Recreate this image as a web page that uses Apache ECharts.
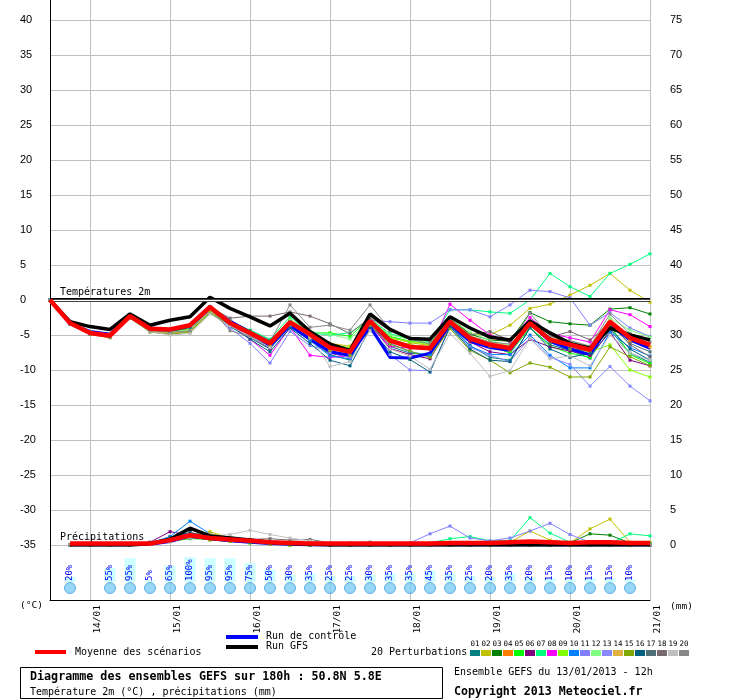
<!DOCTYPE html>
<html>
<head>
<meta charset="utf-8">
<title>Diagramme des ensembles GEFS</title>
<script src="https://cdn.jsdelivr.net/npm/echarts@6.0.0/dist/echarts.min.js"></script>
<style>
    html, body {margin: 0; padding: 0; background: #fff;}
    #chart {width: 740px; height: 700px;}
</style>
</head>
<body>
<div id="chart"></div>
<script>
// echeances toutes les 6h, run du 13/01 12h jusqu'a +180h
var categories = ['13/01 12h','13/01 18h','14/01 00h','14/01 06h','14/01 12h','14/01 18h',
    '15/01 00h','15/01 06h','15/01 12h','15/01 18h','16/01 00h','16/01 06h','16/01 12h','16/01 18h',
    '17/01 00h','17/01 06h','17/01 12h','17/01 18h','18/01 00h','18/01 06h','18/01 12h','18/01 18h',
    '19/01 00h','19/01 06h','19/01 12h','19/01 18h','20/01 00h','20/01 06h','20/01 12h','20/01 18h','21/01 00h'];

// temperature 2m (°C)
var tempMean = [0,-3.3,-4.7,-5.1,-2.3,-4.1,-4.2,-3.6,-1.0,-3.3,-4.7,-6.2,-3.2,-4.9,-6.8,-7.4,-3.0,-5.8,-6.7,-6.9,-3.1,-5.5,-6.4,-6.9,-3.3,-5.7,-6.4,-7.1,-3.1,-5.4,-6.4];
var tempGfs = [0,-3.1,-3.8,-4.2,-2.0,-3.6,-2.9,-2.4,0.4,-1.2,-2.4,-3.7,-1.9,-4.5,-6.3,-7.2,-2.0,-4.2,-5.5,-5.6,-2.4,-4.0,-5.3,-5.7,-3.0,-4.7,-6.2,-6.9,-4.0,-5.0,-5.7];
var tempCtrl = [0,-3.4,-4.5,-4.9,-2.2,-4.0,-4.2,-3.7,-1.2,-3.0,-4.6,-6.5,-3.6,-5.6,-7.4,-7.9,-3.8,-8.2,-8.3,-7.6,-3.4,-5.9,-6.8,-7.2,-3.3,-5.9,-7.0,-7.8,-3.5,-5.7,-6.9];

var t01 = [0,-3.4,-4.6,-5.0,-2.4,-4.3,-4.5,-4.0,-1.3,-3.8,-5.4,-7.0,-3.6,-5.8,-7.8,-8.6,-3.4,-6.6,-7.6,-7.9,-3.8,-6.5,-8.2,-8.6,-4.0,-6.4,-7.2,-8.3,-4.3,-7.6,-8.9];
var t02 = [0,-3.3,-4.6,-5.0,-2.2,-4.0,-4.4,-4.2,-1.5,-3.2,-4.4,-6.0,-2.8,-4.6,-6.2,-6.6,-2.9,-5.3,-6.1,-6.5,-2.9,-4.8,-5.0,-3.6,-1.2,-0.6,0.7,2.1,3.8,1.4,-0.3];
var t03 = [0,-3.2,-4.5,-5.0,-2.2,-4.2,-4.6,-4.0,-1.2,-3.1,-4.4,-5.8,-3.0,-4.8,-6.5,-7.2,-2.8,-5.6,-6.4,-6.8,-2.5,-4.9,-5.7,-5.9,-1.8,-3.1,-3.4,-3.6,-1.3,-1.1,-2.0];
var t04 = [0,-3.3,-4.7,-5.2,-2.4,-4.3,-4.5,-3.9,-1.2,-3.5,-5.0,-6.6,-3.4,-5.3,-7.1,-7.4,-3.3,-5.8,-6.5,-6.6,-3.4,-5.6,-6.6,-7.2,-3.6,-5.4,-6.2,-6.8,-2.9,-5.9,-6.7];
var t05 = [0,-3.2,-4.6,-5.1,-2.3,-4.4,-4.8,-4.5,-1.8,-3.4,-4.5,-5.9,-3.0,-4.7,-4.7,-5.2,-2.6,-5.2,-5.9,-6.2,-2.8,-5.3,-6.5,-7.6,-3.9,-6.6,-7.6,-8.2,-3.6,-7.8,-9.1];
var t06 = [0,-3.3,-4.7,-5.1,-2.4,-4.2,-4.4,-3.8,-1.1,-3.6,-5.2,-6.9,-3.8,-5.7,-7.6,-8.2,-3.5,-6.9,-7.8,-8.4,-3.7,-6.0,-7.4,-7.8,-5.6,-6.7,-7.3,-7.9,-4.6,-8.6,-9.4];
var t07 = [0,-3.3,-4.6,-5.0,-2.1,-4.0,-4.3,-4.0,-1.3,-3.0,-4.3,-5.6,-2.4,-4.7,-5.0,-4.7,-2.7,-4.8,-5.6,-6.0,-1.4,-1.4,-1.7,-1.9,0.0,3.8,1.9,0.5,3.8,5.1,6.6];
var t08 = [0,-3.4,-4.8,-5.2,-2.3,-4.1,-4.3,-3.7,-1.2,-3.6,-5.6,-7.9,-3.9,-7.9,-8.2,-8.0,-3.5,-6.6,-6.9,-7.0,-0.6,-2.9,-5.0,-5.9,-2.5,-4.8,-5.4,-6.0,-1.4,-2.1,-3.8];
var t09 = [0,-3.3,-4.7,-5.0,-2.3,-4.3,-4.7,-4.3,-1.6,-3.4,-4.8,-6.3,-3.1,-4.8,-6.4,-6.8,-3.0,-5.5,-5.9,-6.4,-2.7,-5.2,-6.3,-7.0,-3.4,-6.0,-7.0,-7.4,-6.4,-10.0,-11.0];
var t10 = [0,-3.3,-4.6,-5.1,-2.2,-4.0,-4.2,-3.7,-1.1,-3.2,-5.0,-6.8,-3.9,-5.8,-8.0,-8.4,-3.5,-6.2,-7.4,-7.9,-3.5,-6.6,-7.8,-7.8,-5.0,-7.9,-9.7,-9.7,-4.6,-6.8,-8.0];
var t11 = [0,-3.5,-4.9,-5.3,-2.5,-4.5,-4.9,-4.4,-1.7,-4.0,-6.2,-9.0,-4.5,-6.5,-7.3,-8.0,-2.9,-3.1,-3.3,-3.3,-1.4,-1.4,-2.4,-0.7,1.4,1.2,0.3,-3.6,-1.8,-4.0,-5.2];
var t12 = [0,-3.2,-4.5,-4.9,-2.2,-4.2,-4.6,-4.2,-1.5,-3.3,-4.6,-6.0,-2.9,-4.5,-4.9,-5.6,-2.8,-5.0,-5.6,-6.1,-2.6,-4.6,-5.8,-6.5,-3.0,-5.0,-5.9,-6.6,-2.6,-4.3,-5.3];
var t13 = [0,-3.4,-4.7,-5.1,-2.3,-4.2,-4.4,-3.8,-1.0,-3.4,-5.0,-6.5,-3.5,-5.5,-7.5,-8.2,-3.6,-7.8,-10.0,-10.1,-3.9,-6.8,-7.9,-8.8,-5.4,-8.2,-9.2,-12.3,-9.5,-12.3,-14.4];
var t14 = [0,-3.3,-4.7,-5.1,-2.3,-4.4,-4.8,-4.4,-1.6,-3.3,-4.7,-6.1,-3.2,-4.9,-6.6,-7.2,-3.2,-5.7,-6.4,-6.7,-3.0,-5.1,-6.0,-6.6,-3.1,-5.3,-6.1,-6.9,-3.2,-5.6,-6.6];
var t15 = [0,-3.4,-4.9,-5.4,-2.6,-4.6,-4.9,-4.6,-1.8,-3.6,-4.9,-6.5,-3.2,-5.4,-7.2,-7.9,-3.6,-6.3,-7.3,-8.2,-4.1,-7.2,-8.6,-10.4,-9.0,-9.6,-11.0,-11.0,-6.7,-8.1,-9.4];
var t16 = [0,-3.4,-4.8,-5.2,-2.4,-4.3,-4.5,-3.9,-1.2,-3.7,-5.6,-7.4,-4.0,-6.2,-8.6,-9.4,-4.1,-7.4,-8.5,-10.3,-3.8,-7.0,-8.6,-8.8,-3.9,-7.0,-8.2,-7.6,-4.1,-7.0,-8.6];
var t17 = [0,-3.3,-4.6,-5.0,-2.2,-4.1,-4.3,-3.7,-0.9,-3.0,-4.4,-5.8,-3.1,-5.0,-6.8,-7.5,-2.8,-5.8,-6.7,-7.0,-3.2,-5.7,-6.6,-7.1,-3.4,-6.1,-6.9,-7.3,-3.6,-6.2,-7.4];
var t18 = [0,-3.3,-4.5,-4.8,-2.1,-4.0,-4.2,-3.6,-1.0,-2.6,-2.3,-2.3,-1.7,-2.3,-3.4,-4.8,-2.5,-4.4,-5.4,-5.9,-2.9,-5.0,-4.5,-5.8,-3.0,-5.3,-4.5,-5.7,-3.3,-6.4,-8.1];
var t19 = [0,-3.3,-4.8,-5.2,-2.5,-4.5,-5.0,-4.8,-2.0,-3.7,-5.2,-6.8,-3.5,-5.3,-9.5,-8.8,-4.4,-7.0,-8.0,-9.9,-4.8,-7.6,-10.9,-10.1,-5.5,-8.4,-8.0,-9.4,-5.0,-7.6,-8.6];
var t20 = [0,-3.5,-4.9,-5.3,-2.6,-4.4,-4.6,-4.4,-1.2,-4.4,-5.2,-6.0,-0.7,-3.9,-3.6,-4.3,-0.7,-4.2,-5.6,-6.3,-2.6,-5.2,-6.0,-6.3,-1.9,-5.2,-5.8,-6.6,-2.0,-4.8,-6.0];

// precipitations (mm), pas de valeur a l'echeance 0
var rainMean = [null,0.2,0.2,0.2,0.2,0.2,0.7,1.4,1.0,0.8,0.6,0.4,0.3,0.2,0.2,0.2,0.2,0.2,0.2,0.2,0.3,0.3,0.3,0.4,0.5,0.4,0.3,0.4,0.4,0.3,0.3];
var rainGfs = [null,0,0,0,0,0.2,0.8,2.4,1.3,1.0,0.7,0.4,0.2,0.1,0,0,0,0,0,0,0,0,0,0,0,0,0,0,0,0,0];
var rainCtrl = [null,0,0,0,0,0.1,0.5,1.3,0.9,0.6,0.4,0.2,0.1,0,0,0,0,0,0,0,0,0,0,0,0,0,0,0,0,0,0];

var r01 = [null,0,0,0,0,0.1,0.7,1.6,1.2,0.9,0.5,0.3,0.1,0,0,0,0,0,0,0,0,0,0,0,0,0,0,0,0,0,0];
var r02 = [null,0,0,0,0,0.3,0.9,1.5,1.9,1.0,0.6,0.2,0.1,0,0,0,0,0,0,0,0,0,0,0.4,2.0,0.7,0.3,2.3,3.7,0.4,0.4];
var r03 = [null,0,0,0,0,0.2,1.0,1.3,0.8,0.7,0.4,0.2,0,0,0,0,0,0,0,0,0,0.3,0.4,0.4,0.5,0.3,0.3,1.6,1.4,0.3,0.2];
var r04 = [null,0,0,0,0,0.3,0.6,1.8,1.1,0.8,0.5,0.3,0.1,0,0,0,0,0,0,0,0,0,0,0,0,0,0,0,0,0,0];
var r05 = [null,0,0,0,0,0.1,0.5,0.9,0.8,0.6,0.3,0.2,0,0,0,0,0,0,0,0,0,0,0,0,0,0,0,0,0,0,0];
var r06 = [null,0,0,0,0,0.4,1.9,1.4,1.0,0.7,0.4,0.2,0.1,0,0,0,0,0,0,0,0,0,0,0,0,0,0,0,0,0,0];
var r07 = [null,0,0,0,0,0.1,0.6,1.2,0.9,1.2,0.7,0.3,0.1,0,0,0,0,0,0,0.3,0.9,1.2,0.6,0.6,3.9,1.7,0.4,0.2,0.2,1.6,1.3];
var r08 = [null,0,0,0,0,0.2,0.8,1.7,1.3,0.9,0.5,0.3,0.1,0,0,0,0,0,0,0,0,0,0,0,0,0,0,0,0,0,0];
var r09 = [null,0,0,0,0,0.2,0.9,1.4,1.5,1.0,0.6,0.3,0.1,0,0,0,0,0,0,0,0,0,0,0,0,0,0,0,0,0,0];
var r10 = [null,0,0,0,0,0.3,1.2,3.4,1.6,0.9,0.5,0.3,0.1,0,0,0,0,0,0,0,0,0,0,0,0,0,0,0,0,0,0];
var r11 = [null,0,0,0,0,0.1,0.6,1.1,1.0,0.8,0.5,0.3,0.1,0,0,0,0,0,0.3,1.6,2.7,1.0,0.6,1.0,2.0,3.1,1.5,0.4,0.1,0,0];
var r12 = [null,0,0,0,0,0.2,0.7,1.3,1.0,0.8,0.4,0.2,0,0,0,0,0,0,0,0,0,0,0,0,0,0,0,0,0,0,0];
var r13 = [null,0,0,0,0,0.2,0.8,1.0,0.9,0.6,0.4,0.2,0.1,0,0,0,0,0,0,0,0,0,0,0,0,0,0,0,0,0,0];
var r14 = [null,0,0,0,0,0.1,0.6,1.5,1.6,1.1,0.7,0.3,0.1,0,0,0,0,0,0,0,0,0,0,0,0,0,0,0,0,0,0];
var r15 = [null,0,0,0,0,0.2,0.9,1.2,0.7,0.5,0.3,0.1,0,0,0,0,0,0,0,0,0,0,0,0,0,0,0,0,0,0,0];
var r16 = [null,0,0,0,0,0.3,1.1,1.8,1.1,0.7,0.4,0.2,0.1,0,0,0,0,0,0,0,0,0,0,0,0,0,0,0,0,0,0];
var r17 = [null,0,0,0,0,0.2,1.0,2.2,1.2,0.8,0.5,0.2,0.1,0,0,0,0,0,0,0,0,0,0,0,0,0,0,0,0,0,0];
var r18 = [null,0,0,0,0,0.1,0.5,1.0,0.9,0.8,0.8,0.9,0.7,0.8,0.3,0.2,0.3,0.1,0,0,0,0,0,0,0,0,0,0,0,0,0];
var r19 = [null,0,0,0,0,0.1,0.4,1.1,1.3,1.5,2.1,1.5,1.0,0.6,0.3,0.3,0.4,0.2,0.1,0,0,0,0,0,0,0,0,0,0,0,0];
var r20 = [null,0,0,0,0,0.1,0.5,1.4,1.2,0.9,0.7,0.5,0.3,0.2,0.2,0.3,0.4,0.2,0.1,0,0,0,0,0.3,0,0,0,0,0,0,0];

// probabilite de neige (%)
var snowPct = [null,20,null,55,95,5,65,100,95,95,75,50,30,35,25,25,30,35,35,45,35,25,20,35,20,15,10,15,15,10,null];

var pertNames = ['01','02','03','04','05','06','07','08','09','10','11','12','13','14','15','16','17','18','19','20'];
var pertColors = ['#008080','#c0c000','#008000','#ff8000','#00ff00','#800080','#00ff80','#ff00ff','#80ff00','#0080ff',
    '#8080ff','#80ff80','#8888ff','#e0b040','#80a800','#006080','#507078','#786870','#c0c0c0','#888888'];
var pertTemp = [t01,t02,t03,t04,t05,t06,t07,t08,t09,t10,t11,t12,t13,t14,t15,t16,t17,t18,t19,t20];
var pertRain = [r01,r02,r03,r04,r05,r06,r07,r08,r09,r10,r11,r12,r13,r14,r15,r16,r17,r18,r19,r20];

var MONO = '"DejaVu Sans Mono", "Liberation Mono", monospace';

var chart = echarts.init(document.getElementById('chart'), null, {renderer: 'canvas'});

// seulement les echeances de 00h portent une date
function isMidnight(index, value) {
    return /00h$/.test(value);
}

var series = [];

// ligne du 0 °C et libelles des deux zones
series.push({
    name: 'reperes',
    type: 'line',
    xAxisIndex: 0,
    yAxisIndex: 0,
    data: [],
    silent: true,
    markLine: {
        silent: true,
        symbol: ['none', 'none'],
        animation: false,
        data: [
            {yAxis: 0, lineStyle: {color: '#000', width: 4, type: 'solid'},
                label: {show: true, formatter: 'Températures 2m', position: 'insideStartTop', distance: [10, 3],
                    color: '#000', fontFamily: MONO, fontSize: 10}},
            {yAxis: 0, lineStyle: {color: '#fff', width: 1.4, type: 'solid'}, label: {show: false}},
            {yAxis: -35, lineStyle: {color: 'rgba(0,0,0,0)', width: 1},
                label: {show: true, formatter: 'Précipitations', position: 'insideStartTop', distance: [10, 3],
                    color: '#000', fontFamily: MONO, fontSize: 10}}
        ]
    }
});

// perturbations : temperature puis precipitations
for (var i = 0; i < pertTemp.length; i++) {
    series.push({
        name: 'T ' + pertNames[i],
        type: 'line',
        xAxisIndex: 0,
        yAxisIndex: 0,
        data: pertTemp[i],
        symbol: 'rect',
        symbolSize: 3,
        color: pertColors[i],
        lineStyle: {width: 1, color: pertColors[i]},
        silent: true
    });
}
for (var j = 0; j < pertRain.length; j++) {
    series.push({
        name: 'P ' + pertNames[j],
        type: 'line',
        xAxisIndex: 0,
        yAxisIndex: 1,
        data: pertRain[j],
        symbol: 'rect',
        symbolSize: 3,
        color: pertColors[j],
        lineStyle: {width: 1, color: pertColors[j]},
        silent: true
    });
}

// run de controle, run GFS, moyenne (au-dessus des marqueurs des perturbations)
function thickLine(name, data, yIndex, color, width, z) {
    return {
        name: name,
        type: 'line',
        xAxisIndex: 0,
        yAxisIndex: yIndex,
        data: data,
        showSymbol: false,
        color: color,
        lineStyle: {width: width, color: color},
        z: z,
        silent: true
    };
}
series.push(thickLine('Run de contrôle', tempCtrl, 0, '#0000ff', 3, 3));
series.push(thickLine('Run de contrôle P', rainCtrl, 1, '#0000ff', 3, 3));
series.push(thickLine('Run GFS', tempGfs, 0, '#000000', 3.5, 4));
series.push(thickLine('Run GFS P', rainGfs, 1, '#000000', 3.5, 4));
series.push(thickLine('Moyenne des scénarios', tempMean, 0, '#ff0000', 4.5, 5));
series.push(thickLine('Moyenne P', rainMean, 1, '#ff0000', 4.5, 5));

// barres de probabilite de neige + flocons
series.push({
    name: 'neige',
    type: 'bar',
    xAxisIndex: 2,
    yAxisIndex: 3,
    data: snowPct,
    barWidth: 11,
    itemStyle: {color: '#ccffff'},
    silent: true,
    label: {
        show: true,
        position: 'insideBottom',
        rotate: 90,
        align: 'left',
        verticalAlign: 'middle',
        distance: 1,
        formatter: function (p) { return p.value + '%'; },
        color: '#0000ff',
        fontFamily: MONO,
        fontSize: 9
    }
});
series.push({
    name: 'flocons',
    type: 'scatter',
    xAxisIndex: 2,
    yAxisIndex: 3,
    data: snowPct.map(function (p) { return p == null ? null : 0; }),
    symbol: 'circle',
    symbolSize: 11,
    symbolOffset: [0, 6],
    itemStyle: {color: '#80ccf2', borderColor: '#3d9fdc', borderWidth: 1},
    silent: true
});

// legende et cartouche du bas
var graphics = [
    {type: 'text', x: 20, y: 606, style: {text: '(°C)', font: '9.5px ' + MONO, fill: '#000', verticalAlign: 'middle'}},
    {type: 'text', x: 670, y: 607, style: {text: '(mm)', font: '9.5px ' + MONO, fill: '#000', verticalAlign: 'middle'}},
    {type: 'rect', shape: {x: 35, y: 650, width: 31, height: 4}, style: {fill: '#ff0000'}},
    {type: 'text', x: 75, y: 652, style: {text: 'Moyenne des scénarios', font: '10px ' + MONO, fill: '#000', verticalAlign: 'middle'}},
    {type: 'rect', shape: {x: 226, y: 635, width: 32, height: 4}, style: {fill: '#0000ff'}},
    {type: 'text', x: 266, y: 636, style: {text: 'Run de contrôle', font: '10px ' + MONO, fill: '#000', verticalAlign: 'middle'}},
    {type: 'rect', shape: {x: 226, y: 645, width: 32, height: 4}, style: {fill: '#000000'}},
    {type: 'text', x: 266, y: 646, style: {text: 'Run GFS', font: '10px ' + MONO, fill: '#000', verticalAlign: 'middle'}},
    {type: 'text', x: 371, y: 652, style: {text: '20 Perturbations', font: '10px ' + MONO, fill: '#000', verticalAlign: 'middle'}},
    {type: 'rect', shape: {x: 20.5, y: 667.5, width: 422, height: 31}, style: {fill: 'none', stroke: '#000', lineWidth: 1}},
    {type: 'text', x: 30, y: 677, style: {text: 'Diagramme des ensembles GEFS sur 180h : 50.8N 5.8E', font: 'bold 11.7px ' + MONO, fill: '#000', verticalAlign: 'middle'}},
    {type: 'text', x: 30, y: 692, style: {text: 'Température 2m (°C) , précipitations (mm)', font: '10px ' + MONO, fill: '#000', verticalAlign: 'middle'}},
    {type: 'text', x: 454, y: 672, style: {text: 'Ensemble GEFS du 13/01/2013 - 12h', font: '10px ' + MONO, fill: '#000', verticalAlign: 'middle'}},
    {type: 'text', x: 454, y: 692, style: {text: 'Copyright 2013 Meteociel.fr', font: 'bold 11.6px ' + MONO, fill: '#000', verticalAlign: 'middle'}}
];
for (var k = 0; k < pertNames.length; k++) {
    graphics.push({type: 'rect', shape: {x: 470 + 11 * k, y: 650, width: 10, height: 6}, style: {fill: pertColors[k]}});
    graphics.push({type: 'text', x: 475 + 11 * k, y: 644,
        style: {text: pertNames[k], font: '7.5px ' + MONO, fill: '#000', align: 'center', verticalAlign: 'middle'}});
}

var option = {
    backgroundColor: '#ffffff',
    animation: false,
    grid: [
        {left: 50, right: 90, top: 20, height: 525},   // courbes
        {left: 50, right: 90, top: 0, height: 600},    // cadre + dates
        {left: 50, right: 90, top: 557, height: 25}    // barres neige
    ],
    xAxis: [
        {gridIndex: 0, type: 'category', data: categories, boundaryGap: false, show: false},
        {
            gridIndex: 1, type: 'category', data: categories, boundaryGap: false,
            axisLine: {show: true, lineStyle: {color: '#000', width: 1}},
            axisTick: {show: false},
            axisLabel: {
                interval: isMidnight,
                rotate: 90,
                margin: 5,
                verticalAlign: 'top',
                lineHeight: 16,
                showMaxLabel: true,
                color: '#000',
                fontFamily: MONO,
                fontSize: 9.5,
                formatter: function (v) { return v.slice(0, 5); }
            },
            splitLine: {show: true, interval: isMidnight, lineStyle: {color: '#c0c0c0', width: 1}}
        },
        {gridIndex: 2, type: 'category', data: categories, boundaryGap: false, show: false}
    ],
    yAxis: [
        {
            gridIndex: 0, type: 'value', min: -35, max: 40, interval: 5, position: 'left',
            axisLine: {show: false}, axisTick: {show: false},
            axisLabel: {align: 'left', margin: 30, color: '#000', fontFamily: 'Liberation Sans', fontSize: 11},
            splitLine: {show: true, lineStyle: {color: '#c0c0c0', width: 1}}
        },
        {
            gridIndex: 0, type: 'value', min: 0, max: 75, interval: 5, position: 'right',
            axisLine: {show: false}, axisTick: {show: false},
            axisLabel: {margin: 20, color: '#000', fontFamily: 'Liberation Sans', fontSize: 11},
            splitLine: {show: false}
        },
        {
            gridIndex: 1, type: 'value', min: 0, max: 1,
            axisLine: {show: true, lineStyle: {color: '#000', width: 1}},
            axisTick: {show: false}, axisLabel: {show: false}, splitLine: {show: false}
        },
        {gridIndex: 2, type: 'value', min: 0, max: 100, show: false}
    ],
    series: series,
    graphic: graphics
};

chart.setOption(option);
</script>
</body>
</html>
